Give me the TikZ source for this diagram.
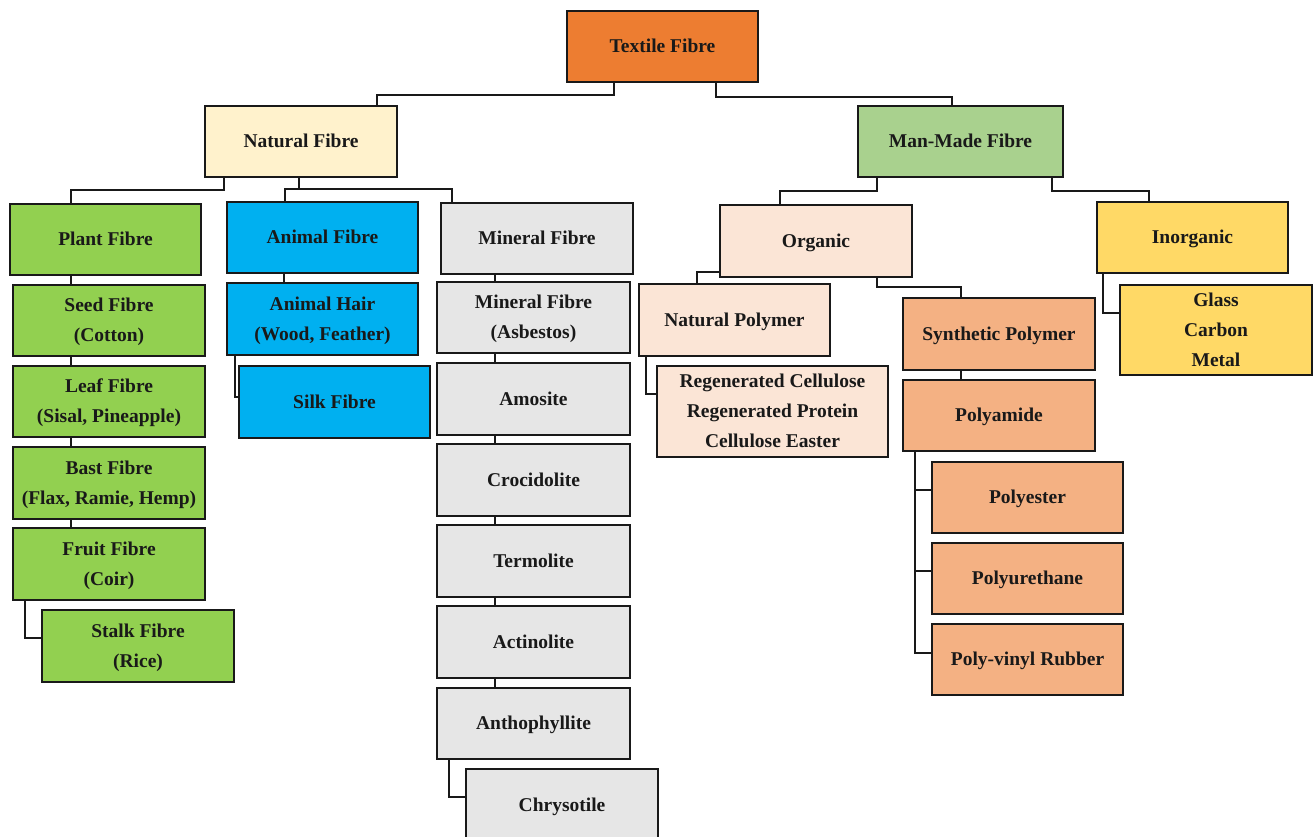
\documentclass[tikz,border=0pt]{standalone}
\usepackage{fontspec}
\setmainfont{Liberation Serif}
\definecolor{cOrange}{HTML}{ED7D31}
\definecolor{cCream}{HTML}{FFF2CC}
\definecolor{cMM}{HTML}{A9D18E}
\definecolor{cPlant}{HTML}{92D050}
\definecolor{cAnimal}{HTML}{00B0F0}
\definecolor{cMin}{HTML}{E6E6E6}
\definecolor{cOrg}{HTML}{FBE5D6}
\definecolor{cSyn}{HTML}{F4B183}
\definecolor{cInorg}{HTML}{FFD966}
\newcommand\mkbox[7]{\node[box,fill=#6,minimum width={#4-#2},minimum height={#5-#3}] (#1) at ({(#2+#4)/2},{(#3+#5)/2}) {\strut #7\strut};}
\tikzset{
  box/.style={draw=black!90,line width=1.6pt,rectangle,inner sep=0pt,outer sep=0pt,align=center,
    font=\fontsize{19.5}{30}\selectfont\bfseries,text=black!90},
  conn/.style={draw=black!90,line width=1.6pt,line join=miter}
}
\begin{document}
\begin{tikzpicture}[x=1pt,y=-1pt]
\useasboundingbox (0,0) rectangle (1313,837);
\clip (0,0) rectangle (1313,837);
% level 0/1
\mkbox{tf}{567}{11}{758}{82}{cOrange}{Textile Fibre}
\mkbox{nf}{205}{106}{397}{177}{cCream}{Natural Fibre}
\mkbox{mf}{858}{106}{1063}{177}{cMM}{Man-Made Fibre}
% natural
\mkbox{plant}{10}{204}{201}{275}{cPlant}{Plant Fibre}
\mkbox{animal}{227}{202}{418}{273}{cAnimal}{Animal Fibre}
\mkbox{mineral}{441}{203}{633}{274}{cMin}{Mineral Fibre}
\mkbox{seed}{13}{285}{205}{356}{cPlant}{Seed Fibre\\(Cotton)}
\mkbox{leaf}{13}{366}{205}{437}{cPlant}{Leaf Fibre\\(Sisal, Pineapple)}
\mkbox{bast}{13}{447}{205}{519}{cPlant}{Bast Fibre\\(Flax, Ramie, Hemp)}
\mkbox{fruit}{13}{528}{205}{600}{cPlant}{Fruit Fibre\\(Coir)}
\mkbox{stalk}{42}{610}{234}{682}{cPlant}{Stalk Fibre\\(Rice)}
\mkbox{hair}{227}{283}{418}{355}{cAnimal}{Animal Hair\\(Wood, Feather)}
\mkbox{silk}{239}{366}{430}{438}{cAnimal}{Silk Fibre}
\mkbox{asb}{437}{282}{630}{353}{cMin}{Mineral Fibre\\(Asbestos)}
\mkbox{amo}{437}{363}{630}{435}{cMin}{Amosite}
\mkbox{cro}{437}{444}{630}{516}{cMin}{Crocidolite}
\mkbox{ter}{437}{525}{630}{597}{cMin}{Termolite}
\mkbox{act}{437}{606}{630}{678}{cMin}{Actinolite}
\mkbox{ant}{437}{688}{630}{759}{cMin}{Anthophyllite}
\mkbox{chr}{466}{769}{658}{841}{cMin}{Chrysotile}
% man-made
\mkbox{org}{720}{205}{912}{277}{cOrg}{Organic}
\mkbox{inorg}{1097}{202}{1288}{273}{cInorg}{Inorganic}
\mkbox{np}{639}{284}{830}{356}{cOrg}{Natural Polymer}
\mkbox{regen}{657}{366}{888}{457}{cOrg}{Regenerated Cellulose\\Regenerated Protein\\Cellulose Easter}
\mkbox{syn}{903}{298}{1095}{370}{cSyn}{Synthetic Polymer}
\mkbox{pa}{903}{380}{1095}{451}{cSyn}{Polyamide}
\mkbox{pe}{932}{462}{1123}{533}{cSyn}{Polyester}
\mkbox{pu}{932}{543}{1123}{614}{cSyn}{Polyurethane}
\mkbox{pvr}{932}{624}{1123}{695}{cSyn}{Poly-vinyl Rubber}
\mkbox{glass}{1120}{285}{1312}{375}{cInorg}{Glass\\Carbon\\Metal}
% connectors
\draw[conn] (tf.south -| 614,0) -- (614,95) -- (377,95) -- (nf.north -| 377,0);
\draw[conn] (tf.south -| 716,0) -- (716,97) -- (952,97) -- (mf.north -| 952,0);
\draw[conn] (nf.south -| 224,0) -- (224,190) -- (71,190) -- (plant.north -| 71,0);
\draw[conn] (nf.south -| 299,0) -- (299,189);
\draw[conn] (animal.north -| 285,0) -- (285,189) -- (452,189) -- (mineral.north -| 452,0);
\draw[conn] (mf.south -| 877,0) -- (877,191) -- (780,191) -- (org.north -| 780,0);
\draw[conn] (mf.south -| 1052,0) -- (1052,191) -- (1149,191) -- (inorg.north -| 1149,0);
% plant column
\draw[conn] (plant.south -| 71,0) -- (seed.north -| 71,0);
\draw[conn] (seed.south -| 71,0) -- (leaf.north -| 71,0);
\draw[conn] (leaf.south -| 71,0) -- (bast.north -| 71,0);
\draw[conn] (bast.south -| 71,0) -- (fruit.north -| 71,0);
\draw[conn] (fruit.south -| 25,0) -- (25,638) -- (stalk.west |- 0,638);
% animal column
\draw[conn] (animal.south -| 284,0) -- (hair.north -| 284,0);
\draw[conn] (hair.south -| 235,0) -- (235,397) -- (silk.west |- 0,397);
% mineral column
\draw[conn] (mineral.south -| 495,0) -- (asb.north -| 495,0);
\draw[conn] (asb.south -| 495,0) -- (amo.north -| 495,0);
\draw[conn] (amo.south -| 495,0) -- (cro.north -| 495,0);
\draw[conn] (cro.south -| 495,0) -- (ter.north -| 495,0);
\draw[conn] (ter.south -| 495,0) -- (act.north -| 495,0);
\draw[conn] (act.south -| 495,0) -- (ant.north -| 495,0);
\draw[conn] (ant.south -| 449,0) -- (449,797) -- (chr.west |- 0,797);
% organic
\draw[conn] (org.west |- 0,272) -- (697,272) -- (np.north -| 697,0);
\draw[conn] (np.south -| 646,0) -- (646,394) -- (regen.west |- 0,394);
\draw[conn] (org.south -| 877,0) -- (877,287) -- (961,287) -- (syn.north -| 961,0);
\draw[conn] (syn.south -| 961,0) -- (pa.north -| 961,0);
\draw[conn] (pa.south -| 915,0) -- (915,653) -- (pvr.west |- 0,653);
\draw[conn] (915,490) -- (pe.west |- 0,490);
\draw[conn] (915,571) -- (pu.west |- 0,571);
% inorganic
\draw[conn] (inorg.south -| 1103,0) -- (1103,313) -- (glass.west |- 0,313);
\end{tikzpicture}
\end{document}
